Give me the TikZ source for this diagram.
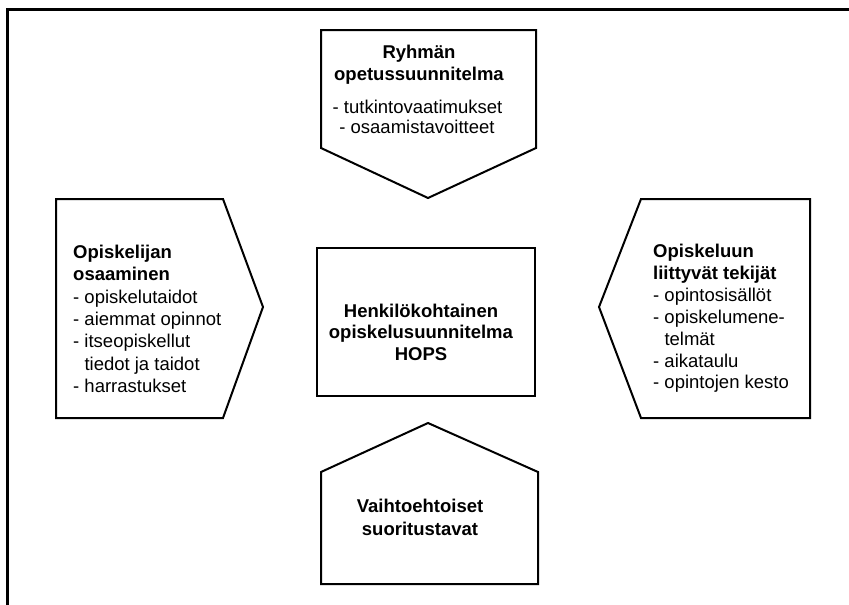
\documentclass[tikz,border=0pt]{standalone}
\usepackage{fontspec}
\setmainfont{Liberation Sans}
\begin{document}
\begin{tikzpicture}[x=1pt,y=-1pt,
  frameline/.style={line width=3pt},
  outline/.style={line width=2pt, line join=miter},
  txt/.style={inner sep=0pt, font=\fontsize{18.5}{22.3}\selectfont}]
\useasboundingbox (0,0) rectangle (849,605);
% outer frame (top and left only)
\draw[frameline] (849,9) -- (7,9) -- (7,605);
% top pentagon
\draw[outline] (321,30) -- (536,30) -- (536,148) -- (428,198) -- (321,148) -- cycle;
% left pentagon
\draw[outline] (56,199) -- (223,199) -- (263,307) -- (223,418) -- (56,418) -- cycle;
% right pentagon
\draw[outline] (810,199) -- (641,199) -- (599,307) -- (641,418) -- (810,418) -- cycle;
% bottom pentagon
\draw[outline] (321,584) -- (321,472) -- (428,423) -- (538,472) -- (538,584) -- cycle;
% center box
\draw[outline] (317,248) rectangle (535,396);
% top texts
\node[txt, anchor=base] (t1) at (419,58.5) {\textbf{Ryhmän}};
\node[txt, anchor=base] (t2) at (419,80.5) {\textbf{opetussuunnitelma}};
\node[txt, anchor=base] (t3) at (417.5,113.5) {- tutkintovaatimukset};
\node[txt, anchor=base] (t4) at (417,133.5) {- osaamistavoitteet};
% left texts
\foreach \t [count=\i] in {\textbf{Opiskelijan},\textbf{osaaminen},- opiskelutaidot,- aiemmat opinnot,- itseopiskellut,\phantom{- }tiedot ja taidot,- harrastukset}
  \node[txt, anchor=base west] (l\i) at (73,{258.5+(\i-1)*22.3}) {\t};
% right texts
\foreach \t [count=\i] in {\textbf{Opiskeluun},\textbf{liittyvät tekijät},- opintosisällöt,- opiskelumene-,\phantom{- }telmät,- aikataulu,- opintojen kesto}
  \node[txt, anchor=base west] (r\i) at (653,{257.5+(\i-1)*21.9}) {\t};
% center texts
\node[txt, anchor=base] (c1) at (421,317.5) {\textbf{Henkilökohtainen}};
\node[txt, anchor=base] (c2) at (421,338.5) {\textbf{opiskelusuunnitelma}};
\node[txt, anchor=base] (c3) at (421,360.5) {\textbf{HOPS}};
% bottom texts
\node[txt, anchor=base] (b1) at (420,512.5) {\textbf{Vaihtoehtoiset}};
\node[txt, anchor=base] (b2) at (420,535.5) {\textbf{suoritustavat}};
\end{tikzpicture}
\end{document}
